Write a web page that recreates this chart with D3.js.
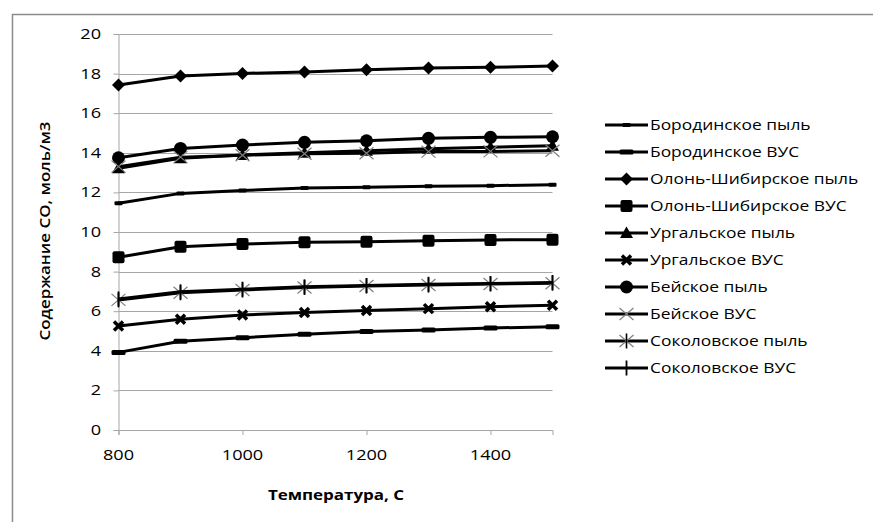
<!DOCTYPE html>
<html>
<head>
<meta charset="utf-8">
<script src="https://cdn.jsdelivr.net/npm/d3@7"></script>
<style>
  html, body { margin: 0; padding: 0; background: #fff; }
  svg { display: block; }
  text { font-family: "Open Sans", sans-serif; fill: #000; }
</style>
</head>
<body>
<svg id="chart" width="873" height="522"></svg>
<script>
// Temperatures, °C
const temps = [800, 900, 1000, 1100, 1200, 1300, 1400, 1500];

// CO content, mol/m3, per coal and fraction
const borodinoDust   = [11.45, 11.95, 12.10, 12.22, 12.26, 12.31, 12.34, 12.39];
const borodinoVUS    = [3.92, 4.48, 4.66, 4.83, 4.97, 5.05, 5.15, 5.22];
const olonDust       = [17.42, 17.88, 18.01, 18.08, 18.20, 18.28, 18.32, 18.38];
const olonVUS        = [8.72, 9.26, 9.39, 9.48, 9.51, 9.56, 9.60, 9.61];
const urgalDust      = [13.22, 13.72, 13.89, 14.00, 14.10, 14.20, 14.28, 14.35];
const urgalVUS       = [5.25, 5.59, 5.81, 5.93, 6.04, 6.13, 6.23, 6.30];
const beiskDust      = [13.75, 14.22, 14.39, 14.53, 14.61, 14.73, 14.78, 14.81];
const beiskVUS       = [13.30, 13.78, 13.88, 13.95, 13.98, 14.06, 14.07, 14.10];
const sokolovDust    = [6.57, 6.93, 7.07, 7.20, 7.27, 7.32, 7.37, 7.41];
const sokolovVUS     = [6.62, 6.98, 7.11, 7.23, 7.30, 7.36, 7.40, 7.45];

const seriesNames = [
  "Бородинское пыль", "Бородинское ВУС",
  "Олонь-Шибирское пыль", "Олонь-Шибирское ВУС",
  "Ургальское пыль", "Ургальское ВУС",
  "Бейское пыль", "Бейское ВУС",
  "Соколовское пыль", "Соколовское ВУС"
];
const seriesValues = [
  borodinoDust, borodinoVUS, olonDust, olonVUS, urgalDust,
  urgalVUS, beiskDust, beiskVUS, sokolovDust, sokolovVUS
];
const markerKinds = [
  "dashShort", "dashLong", "diamond", "square", "triangle",
  "xBold", "circle", "xThin", "asterisk", "plus"
];

const yTicks = [0, 2, 4, 6, 8, 10, 12, 14, 16, 18, 20];
const xTicks = [800, 1000, 1200, 1400];

const svg = d3.select("#chart");

// outer chart frame
svg.append("rect")
  .attr("x", 12.5).attr("y", 14.5)
  .attr("width", 900).attr("height", 600)
  .attr("fill", "none").attr("stroke", "#8c8c8c").attr("stroke-width", 1.5);

const plot = { left: 118.5, right: 552.5, top: 34, bottom: 430 };
const x = d3.scaleLinear().domain([800, 1500]).range([plot.left, plot.right]);
const y = d3.scaleLinear().domain([0, 20]).range([plot.bottom, plot.top]);

const gray = "#a6a6a6";
const textScale = 1.25;
const legendScale = 1.2;
const titleScale = 1.17;

// horizontal gridlines
svg.append("g").selectAll("line").data(yTicks.filter(d => d > 0)).join("line")
  .attr("x1", plot.left).attr("x2", plot.right)
  .attr("y1", d => Math.round(y(d)) + 0.5).attr("y2", d => Math.round(y(d)) + 0.5)
  .attr("stroke", gray).attr("stroke-width", 1);

// y axis
const yAxis = svg.append("g").attr("transform", `translate(${plot.left},0)`)
  .call(d3.axisLeft(y).tickValues(yTicks).tickSize(5).tickPadding(0).tickFormat(() => ""));
yAxis.select(".domain").attr("stroke", gray);
yAxis.selectAll(".tick line").attr("stroke", gray);
svg.append("g").selectAll("text").data(yTicks).join("text")
  .attr("transform", d => `translate(101,${y(d) + 5}) scale(${textScale},1)`)
  .attr("text-anchor", "end")
  .attr("font-size", 14.5)
  .text(d => d);

// x axis
const xAxis = svg.append("g").attr("transform", `translate(0,${plot.bottom})`)
  .call(d3.axisBottom(x).tickValues(xTicks).tickSize(5).tickFormat(() => ""));
xAxis.select(".domain").attr("stroke", gray);
xAxis.selectAll(".tick line").attr("stroke", gray);
svg.append("g").selectAll("text").data(xTicks).join("text")
  .attr("transform", d => `translate(${x(d)},${plot.bottom + 30}) scale(${textScale},1)`)
  .attr("text-anchor", "middle")
  .attr("font-size", 14.5)
  .text(d => d);

// axis titles
svg.append("text")
  .attr("transform", `translate(336,500) scale(${titleScale},1)`)
  .attr("text-anchor", "middle").attr("font-size", 14.5).attr("font-weight", "bold")
  .text("Температура, С");
svg.append("text")
  .attr("transform", `translate(50,231) rotate(-90) scale(${titleScale},1)`)
  .attr("text-anchor", "middle").attr("font-size", 14.5).attr("font-weight", 600)
  .text("Содержание СО, моль/м3");

// marker drawing
function drawMarker(g, kind) {
  switch (kind) {
    case "dashShort":
      g.append("rect").attr("x", -4).attr("y", -2).attr("width", 8).attr("height", 4).attr("rx", 1).attr("fill", "#000");
      break;
    case "dashLong":
      g.append("rect").attr("x", -7).attr("y", -2.5).attr("width", 14).attr("height", 5).attr("rx", 1.5).attr("fill", "#000");
      break;
    case "diamond":
      g.append("path").attr("d", "M0,-6.5L6.5,0L0,6.5L-6.5,0Z").attr("fill", "#000");
      break;
    case "square":
      g.append("rect").attr("x", -6).attr("y", -6).attr("width", 12).attr("height", 12).attr("rx", 2).attr("fill", "#000");
      break;
    case "triangle":
      g.append("path").attr("d", "M0,-6.5L6.5,5L-6.5,5Z").attr("fill", "#000");
      break;
    case "xBold":
      g.append("path").attr("d", "M-4.5,-4.5L4.5,4.5M4.5,-4.5L-4.5,4.5")
        .attr("stroke", "#000").attr("stroke-width", 3.5).attr("fill", "none");
      break;
    case "circle":
      g.append("circle").attr("r", 6.5).attr("fill", "#000");
      break;
    case "xThin":
      g.append("path").attr("d", "M-7,-6L7,6M7,-6L-7,6")
        .attr("stroke", "#7f7f7f").attr("stroke-width", 1.2).attr("fill", "none");
      break;
    case "asterisk":
      g.append("path").attr("d", "M-7,-6L7,6M7,-6L-7,6")
        .attr("stroke", "#7f7f7f").attr("stroke-width", 1.2).attr("fill", "none");
      g.append("path").attr("d", "M0,-7.5L0,7.5")
        .attr("stroke", "#000").attr("stroke-width", 1.6).attr("fill", "none");
      break;
    case "plus":
      g.append("path").attr("d", "M0,-7.5L0,7.5")
        .attr("stroke", "#000").attr("stroke-width", 1.8).attr("fill", "none");
      break;
  }
}

const line = d3.line().x(d => x(d[0])).y(d => y(d[1]));

seriesValues.forEach((vals, i) => {
  const pts = temps.map((t, j) => [t, vals[j]]);
  const g = svg.append("g").attr("class", "series");
  g.append("path").datum(pts)
    .attr("d", line)
    .attr("fill", "none").attr("stroke", "#000").attr("stroke-width", 3)
    .attr("stroke-linejoin", "round");
  g.selectAll("g.m").data(pts).join("g").attr("class", "m")
    .attr("transform", d => `translate(${x(d[0])},${y(d[1])})`)
    .each(function () { drawMarker(d3.select(this), markerKinds[i]); });
});

// legend
const legend = svg.append("g");
const legendY = d3.scaleLinear().domain([0, 9]).range([125, 368]);
seriesNames.forEach((name, i) => {
  const ly = legendY(i);
  const row = legend.append("g");
  row.append("line").attr("x1", 605).attr("x2", 648).attr("y1", ly).attr("y2", ly)
    .attr("stroke", "#000").attr("stroke-width", 3);
  drawMarker(row.append("g").attr("transform", `translate(626.5,${ly})`), markerKinds[i]);
  row.append("text")
    .attr("transform", `translate(650,${ly + 5}) scale(${legendScale},1)`)
    .attr("font-size", 14.5)
    .text(name);
});
</script>
</body>
</html>
